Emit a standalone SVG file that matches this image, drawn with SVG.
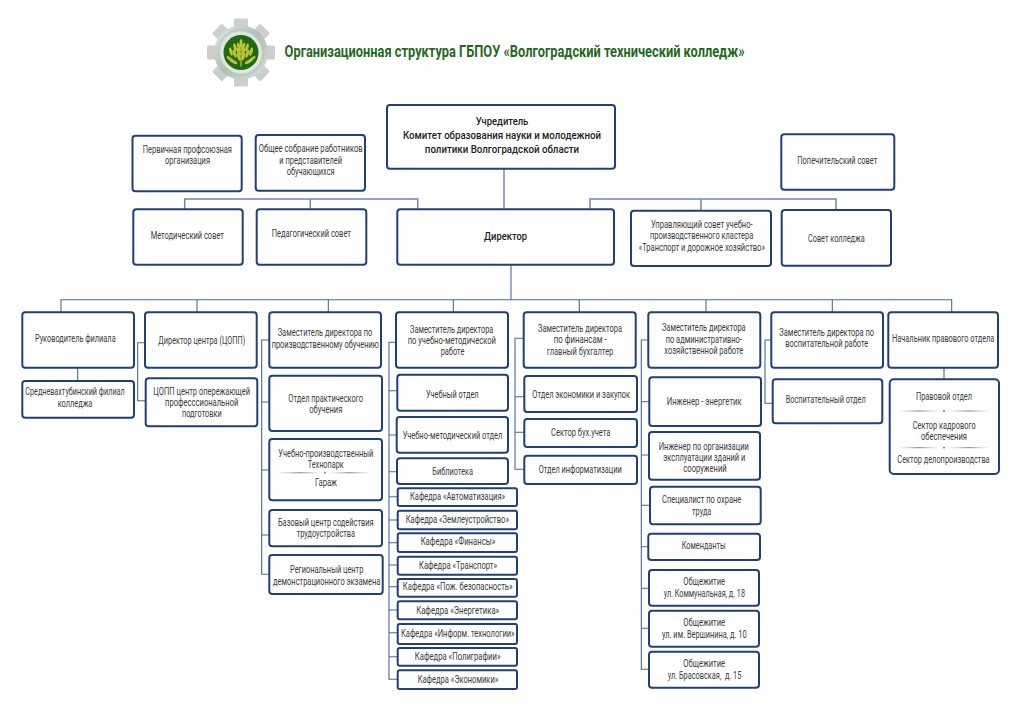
<svg xmlns="http://www.w3.org/2000/svg" width="1024" height="723" viewBox="0 0 1024 723">
<style>
text{font-family:Roboto,"Liberation Sans",sans-serif;font-size:10.6px;fill:#3c3c3c;text-anchor:middle}
.b{font-size:11.8px;font-weight:500;fill:#1c1c1c}
.t{font-size:15.8px;font-weight:700;fill:#1f6a1c}
rect.n{fill:#fff;stroke:#1f4079;stroke-width:2}
.c path{fill:none;stroke:#46689c;stroke-width:1.1}
.c path.h{stroke:#6d87ad;stroke-width:1.5}
.d{fill:url(#dg)}
.e{fill:#4f6f9f}
.w{fill:#c2c236}
</style>
<defs>
<linearGradient id="dg"><stop offset="0" stop-color="#9fb2cc" stop-opacity="0"/><stop offset=".5" stop-color="#5f7ca6"/><stop offset="1" stop-color="#9fb2cc" stop-opacity="0"/></linearGradient>
<linearGradient id="sg" x1="0" y1="0" x2="1" y2="1"><stop offset="0" stop-color="#e4e7e5"/><stop offset=".5" stop-color="#b4bbb8"/><stop offset="1" stop-color="#dcdfdd"/></linearGradient>
<rect id="tooth" x="-7" y="-34" width="14" height="10" rx="1.5" fill="#cbd0cd"/>
<ellipse id="lf" cx="0" cy="-4" rx="1.5" ry="4.2" class="w"/>
</defs>
<rect width="1024" height="723" fill="#fff"/>
<g id="logo" transform="translate(241 52.500)">
<use href="#tooth"/><use href="#tooth" transform="rotate(45)"/><use href="#tooth" transform="rotate(90)"/><use href="#tooth" transform="rotate(135)"/><use href="#tooth" transform="rotate(180)"/><use href="#tooth" transform="rotate(225)"/><use href="#tooth" transform="rotate(270)"/><use href="#tooth" transform="rotate(315)"/>
<circle r="27" fill="url(#sg)"/>
<circle r="23" fill="none" stroke="#a9cfae" stroke-width="1"/>
<circle r="21" fill="#dfe5e2"/>
<circle r="17.500" fill="#1f6a12"/>
<rect x="-.5" y="-13" width="1" height="27" fill="#d9d24a"/>
<use href="#lf" transform="translate(0 -5)"/>
<use href="#lf" transform="translate(-1 -2) rotate(-18)"/><use href="#lf" transform="translate(1 -2) rotate(18)"/>
<use href="#lf" transform="translate(-1 3) rotate(-18)"/><use href="#lf" transform="translate(1 3) rotate(18)"/>
<use href="#lf" transform="translate(-1 8) rotate(-18)"/><use href="#lf" transform="translate(1 8) rotate(18)"/>
<use href="#lf" transform="translate(-5 -1) rotate(-14)"/><use href="#lf" transform="translate(5 -1) rotate(14)"/>
<use href="#lf" transform="translate(-5 5) rotate(-20)"/><use href="#lf" transform="translate(5 5) rotate(20)"/>
<use href="#lf" transform="translate(-9 3) rotate(-16)"/><use href="#lf" transform="translate(9 3) rotate(16)"/>
<use href="#lf" transform="translate(-4 11) rotate(-62)"/><use href="#lf" transform="translate(4 11) rotate(62)"/>
<use href="#lf" transform="translate(-8 9) rotate(-50)"/><use href="#lf" transform="translate(8 9) rotate(50)"/>
</g>
<text class="t" x="514.600" y="57" textLength="460" lengthAdjust="spacingAndGlyphs">Организационная структура ГБПОУ «Волгоградский технический колледж»</text>
<g id="connectors" class="c">
<path class="h" d="M504 168V209"/>
<path class="h" d="M184.700 209V199H417.700V209M310.300 199V209"/>
<path class="h" d="M590 209V199H836V210M701 199V211"/>
<path d="M511 264V299.700"/>
<path d="M61 312V299.700H951.700V312M197 299.700V312M328.300 299.700V312M453.300 299.700V312M579.300 299.700V312M706 299.700V312M832.300 299.700V312"/>
<path d="M77.700 367V381"/>
<path d="M145 342.700H137.700V400.700H146"/>
<path d="M269 340H261.700V574.300H269M261.700 402H269M261.700 470H269M261.700 535H269"/>
<path d="M396 342.300H389V679.300H397M389 390.700H397M389 435H397M389 471.700H397M389 496.700H397M389 520H397M389 542.700H397M389 565H397M389 586.700H397M389 610H397M389 632.700H397M389 656.700H397"/>
<path d="M524 338.300H515V469.300H524M515 396.700H524M515 432.300H524"/>
<path d="M648 340H641.300V669.300H649M641.300 401.700H649M641.300 455H649M641.300 505.300H650M641.300 546.700H648M641.300 588.300H649M641.300 628.300H649"/>
<path d="M771 340H765V403.300H773"/>
<path d="M944 367V379"/>
</g>
<g id="n1"><rect class="n" x="387" y="105" width="228" height="63.700" rx="3"/>
<text class="b" x="502" y="124.700" textLength="52.700" lengthAdjust="spacingAndGlyphs">Учредитель</text>
<text class="b" x="502" y="139" textLength="198" lengthAdjust="spacingAndGlyphs">Комитет образования науки и молодежной</text>
<text class="b" x="502" y="153.300" textLength="154.300" lengthAdjust="spacingAndGlyphs">политики Волгоградской области</text></g>
<g id="n2"><rect class="n" x="132.500" y="135.700" width="109.200" height="55.600" rx="3"/>
<text x="187.300" y="153" textLength="89.300" lengthAdjust="spacingAndGlyphs">Первичная профсоюзная</text>
<text x="187.500" y="164" textLength="45" lengthAdjust="spacingAndGlyphs">организация</text></g>
<g id="n3"><rect class="n" x="255.700" y="135" width="109.300" height="55.700" rx="3"/>
<text x="310.700" y="152" textLength="104" lengthAdjust="spacingAndGlyphs">Общее собрание работников</text>
<text x="310.700" y="163.500" textLength="62.700" lengthAdjust="spacingAndGlyphs">и представителей</text>
<text x="310.700" y="175" textLength="48" lengthAdjust="spacingAndGlyphs">обучающихся</text></g>
<g id="n4"><rect class="n" x="781.300" y="134.300" width="113" height="55.400" rx="3"/>
<text x="837.300" y="164" textLength="80" lengthAdjust="spacingAndGlyphs">Попечительский совет</text></g>
<g id="n5"><rect class="n" x="133.300" y="209.300" width="109.400" height="55.400" rx="3"/>
<text x="187.300" y="239" textLength="73.300" lengthAdjust="spacingAndGlyphs">Методический совет</text></g>
<g id="n6"><rect class="n" x="256.700" y="209.300" width="109.600" height="55.400" rx="3"/>
<text x="311.300" y="236.700" textLength="79.300" lengthAdjust="spacingAndGlyphs">Педагогический совет</text></g>
<g id="n7"><rect class="n" x="397.300" y="209.300" width="216.700" height="55.400" rx="3"/>
<text class="b" x="505.500" y="240" textLength="43" lengthAdjust="spacingAndGlyphs">Директор</text></g>
<g id="n8"><rect class="n" x="631" y="210.700" width="140" height="55.300" rx="3"/>
<text x="701.800" y="228" textLength="101.700" lengthAdjust="spacingAndGlyphs">Управляющий совет учебно-</text>
<text x="701.700" y="239" textLength="103.300" lengthAdjust="spacingAndGlyphs">производственного кластера</text>
<text x="701.800" y="250.700" textLength="126.300" lengthAdjust="spacingAndGlyphs">«Транспорт и дорожное хозяйство»</text></g>
<g id="n9"><rect class="n" x="781.700" y="210" width="109.300" height="55.700" rx="3"/>
<text x="836.300" y="242" textLength="56.700" lengthAdjust="spacingAndGlyphs">Совет колледжа</text></g>
<g id="n10"><rect class="n" x="22.300" y="312.300" width="111.700" height="55.400" rx="3"/>
<text x="75.300" y="342.300" textLength="80.700" lengthAdjust="spacingAndGlyphs">Руководитель филиала</text></g>
<g id="n11"><rect class="n" x="22.300" y="381" width="111.700" height="36.700" rx="3"/>
<text x="75" y="395.300" textLength="99.300" lengthAdjust="spacingAndGlyphs">Средневахтубинский филиал</text>
<text x="75" y="406.700" textLength="34.700" lengthAdjust="spacingAndGlyphs">колледжа</text></g>
<g id="n12"><rect class="n" x="145" y="312.300" width="111.700" height="55.400" rx="3"/>
<text x="201.800" y="344.300" textLength="87" lengthAdjust="spacingAndGlyphs">Директор центра (ЦОПП)</text></g>
<g id="n13"><rect class="n" x="145.700" y="378.300" width="111.600" height="48" rx="3"/>
<text x="201.700" y="394.700" textLength="96.700" lengthAdjust="spacingAndGlyphs">ЦОПП центр опережающей</text>
<text x="201.700" y="406" textLength="73.300" lengthAdjust="spacingAndGlyphs">професссиональной</text>
<text x="201.800" y="417" textLength="39.700" lengthAdjust="spacingAndGlyphs">подготовки</text></g>
<g id="n14"><rect class="n" x="269.300" y="312.300" width="111.700" height="55.400" rx="3"/>
<text x="325" y="336.300" textLength="94.700" lengthAdjust="spacingAndGlyphs">Заместитель директора по</text>
<text x="325.300" y="347.700" textLength="107.300" lengthAdjust="spacingAndGlyphs">производственному обучению</text></g>
<g id="n15"><rect class="n" x="269.300" y="375.700" width="112.700" height="55.300" rx="3"/>
<text x="325.700" y="402" textLength="74.700" lengthAdjust="spacingAndGlyphs">Отдел практического</text>
<text x="325.800" y="413.300" textLength="33" lengthAdjust="spacingAndGlyphs">обучения</text></g>
<g id="n16"><rect class="n" x="269.300" y="439" width="112.700" height="61.300" rx="3"/>
<text x="325.800" y="457" textLength="95" lengthAdjust="spacingAndGlyphs">Учебно-производственный</text>
<text x="325.700" y="468.300" textLength="36" lengthAdjust="spacingAndGlyphs">Технопарк</text>
<rect class="d" x="276" y="472.300" width="47" height="1"/><rect class="d" x="327" y="472.300" width="45" height="1"/><circle class="e" cx="325" cy="472.800" r=".9"/>
<text x="326" y="485.700" textLength="22" lengthAdjust="spacingAndGlyphs">Гараж</text></g>
<g id="n17"><rect class="n" x="269.300" y="510" width="112.700" height="36.300" rx="3"/>
<text x="325.800" y="525.700" textLength="95.700" lengthAdjust="spacingAndGlyphs">Базовый центр содействия</text>
<text x="325.800" y="537" textLength="58.300" lengthAdjust="spacingAndGlyphs">трудоустройства</text></g>
<g id="n18"><rect class="n" x="269.300" y="555" width="113.400" height="39" rx="3"/>
<text x="326.700" y="573.300" textLength="73.300" lengthAdjust="spacingAndGlyphs">Региональный центр</text>
<text x="326.700" y="584.700" textLength="107.300" lengthAdjust="spacingAndGlyphs">демонстрационного экзамена</text></g>
<g id="n19"><rect class="n" x="396" y="312.300" width="112" height="55.400" rx="3"/>
<text x="451.700" y="332.700" textLength="83.300" lengthAdjust="spacingAndGlyphs">Заместитель директора</text>
<text x="451.800" y="344" textLength="88.300" lengthAdjust="spacingAndGlyphs">по учебно-методической</text>
<text x="452.500" y="355.300" textLength="23.700" lengthAdjust="spacingAndGlyphs">работе</text></g>
<g id="n20"><rect class="n" x="397.300" y="374.700" width="110.700" height="36" rx="3"/>
<text x="452.300" y="398" textLength="52.700" lengthAdjust="spacingAndGlyphs">Учебный отдел</text></g>
<g id="n21"><rect class="n" x="396.700" y="417" width="111.300" height="35.700" rx="3"/>
<text x="452.500" y="439" textLength="99.700" lengthAdjust="spacingAndGlyphs">Учебно-методический отдел</text></g>
<g id="n22"><rect class="n" x="397" y="458.300" width="111" height="25.700" rx="3"/>
<text x="452.700" y="475.300" textLength="40.700" lengthAdjust="spacingAndGlyphs">Библиотека</text></g>
<g id="n23"><rect class="n" x="397.700" y="488.300" width="119.300" height="17.700" rx="2"/>
<text x="457.500" y="500" textLength="95" lengthAdjust="spacingAndGlyphs">Кафедра «Автоматизация»</text></g>
<g id="n24"><rect class="n" x="397.700" y="510.700" width="119.300" height="18.600" rx="2"/>
<text x="457.300" y="522.700" textLength="103.300" lengthAdjust="spacingAndGlyphs">Кафедра «Землеустройство»</text></g>
<g id="n25"><rect class="n" x="397.700" y="533.300" width="119.300" height="18.700" rx="2"/>
<text x="458" y="545.300" textLength="74.700" lengthAdjust="spacingAndGlyphs">Кафедра «Финансы»</text></g>
<g id="n26"><rect class="n" x="397.700" y="556.700" width="119.300" height="18" rx="2"/>
<text x="458" y="568.700" textLength="78" lengthAdjust="spacingAndGlyphs">Кафедра «Транспорт»</text></g>
<g id="n27"><rect class="n" x="397.700" y="579" width="119.300" height="17.700" rx="2"/>
<text x="457.700" y="590.300" textLength="109.700" lengthAdjust="spacingAndGlyphs">Кафедра «Пож. безопасность»</text></g>
<g id="n28"><rect class="n" x="397.700" y="601.300" width="119.300" height="18" rx="2"/>
<text x="457.700" y="613.700" textLength="83" lengthAdjust="spacingAndGlyphs">Кафедра «Энергетика»</text></g>
<g id="n29"><rect class="n" x="397.700" y="624" width="119.300" height="20" rx="2"/>
<text x="457.800" y="636.700" textLength="113.700" lengthAdjust="spacingAndGlyphs">Кафедра «Информ. технологии»</text></g>
<g id="n30"><rect class="n" x="397.700" y="648" width="119.300" height="17.700" rx="2"/>
<text x="457.700" y="659.700" textLength="85.700" lengthAdjust="spacingAndGlyphs">Кафедра «Полиграфии»</text></g>
<g id="n31"><rect class="n" x="397.700" y="670.300" width="119.300" height="18.700" rx="2"/>
<text x="458" y="683.300" textLength="80.700" lengthAdjust="spacingAndGlyphs">Кафедра «Экономики»</text></g>
<g id="n32"><rect class="n" x="523.700" y="312.300" width="112" height="55.400" rx="3"/>
<text x="580" y="332" textLength="84" lengthAdjust="spacingAndGlyphs">Заместитель директора</text>
<text x="580.200" y="343.300" textLength="53" lengthAdjust="spacingAndGlyphs">по финансам -</text>
<text x="580" y="354.700" textLength="66.700" lengthAdjust="spacingAndGlyphs">главный бухгалтер</text></g>
<g id="n33"><rect class="n" x="524.300" y="376" width="112.700" height="36" rx="3"/>
<text x="581.200" y="397.700" textLength="97.700" lengthAdjust="spacingAndGlyphs">Отдел экономики и закупок</text></g>
<g id="n34"><rect class="n" x="524.300" y="419" width="112.700" height="28" rx="3"/>
<text x="580.700" y="436.300" textLength="59.300" lengthAdjust="spacingAndGlyphs">Сектор бух.учета</text></g>
<g id="n35"><rect class="n" x="524.300" y="455.700" width="112.700" height="28.300" rx="3"/>
<text x="580.200" y="473" textLength="83" lengthAdjust="spacingAndGlyphs">Отдел информатизации</text></g>
<g id="n36"><rect class="n" x="648.300" y="312.300" width="112" height="55.400" rx="3"/>
<text x="703.800" y="331.300" textLength="83.700" lengthAdjust="spacingAndGlyphs">Заместитель директора</text>
<text x="703.800" y="342.700" textLength="76.300" lengthAdjust="spacingAndGlyphs">по административно-</text>
<text x="703.800" y="353.700" textLength="79" lengthAdjust="spacingAndGlyphs">хозяйственной работе</text></g>
<g id="n37"><rect class="n" x="649.300" y="377.300" width="111.700" height="48.700" rx="3"/>
<text x="704.200" y="404.700" textLength="75" lengthAdjust="spacingAndGlyphs">Инженер - энергетик</text></g>
<g id="n38"><rect class="n" x="649" y="432" width="111" height="47.700" rx="3"/>
<text x="703.800" y="449.700" textLength="90.300" lengthAdjust="spacingAndGlyphs">Инженер по организации</text>
<text x="704.300" y="460.700" textLength="82" lengthAdjust="spacingAndGlyphs">эксплуатации зданий и</text>
<text x="705" y="472" textLength="43.300" lengthAdjust="spacingAndGlyphs">сооружений</text></g>
<g id="n39"><rect class="n" x="650" y="486.700" width="110.700" height="37.600" rx="3"/>
<text x="701.700" y="503.300" textLength="79.300" lengthAdjust="spacingAndGlyphs">Специалист по охране</text>
<text x="701.700" y="514.700" textLength="19.300" lengthAdjust="spacingAndGlyphs">труда</text></g>
<g id="n40"><rect class="n" x="648.300" y="533.700" width="111.700" height="26.300" rx="3"/>
<text x="703.700" y="549" textLength="44" lengthAdjust="spacingAndGlyphs">Коменданты</text></g>
<g id="n41"><rect class="n" x="649" y="570" width="110" height="35.700" rx="3"/>
<text x="704.200" y="585.300" textLength="41.700" lengthAdjust="spacingAndGlyphs">Общежитие</text>
<text x="704.300" y="597" textLength="81.300" lengthAdjust="spacingAndGlyphs">ул. Коммунальная, д. 18</text></g>
<g id="n42"><rect class="n" x="649" y="610.700" width="110" height="36" rx="3"/>
<text x="704.200" y="626" textLength="41.700" lengthAdjust="spacingAndGlyphs">Общежитие</text>
<text x="704.300" y="637.700" textLength="84.700" lengthAdjust="spacingAndGlyphs">ул. им. Вершинина, д. 10</text></g>
<g id="n43"><rect class="n" x="649" y="651.700" width="110" height="36" rx="3"/>
<text x="704.200" y="667.300" textLength="41.700" lengthAdjust="spacingAndGlyphs">Общежитие</text>
<text x="704.500" y="678.700" textLength="73.700" lengthAdjust="spacingAndGlyphs" xml:space="preserve">ул. Брасовская,  д. 15</text></g>
<g id="n44"><rect class="n" x="771.300" y="312.300" width="111.700" height="55.400" rx="3"/>
<text x="826.700" y="335.700" textLength="94.700" lengthAdjust="spacingAndGlyphs">Заместитель директора по</text>
<text x="826.800" y="347" textLength="83" lengthAdjust="spacingAndGlyphs">воспитательной работе</text></g>
<g id="n45"><rect class="n" x="772.700" y="379.300" width="109.600" height="44" rx="3"/>
<text x="825.700" y="402.700" textLength="80" lengthAdjust="spacingAndGlyphs">Воспитательный отдел</text></g>
<g id="n46"><rect class="n" x="888.300" y="312.300" width="109.700" height="55.400" rx="3"/>
<text x="943.200" y="342" textLength="102.300" lengthAdjust="spacingAndGlyphs">Начальник правового отдела</text></g>
<g id="n47"><rect class="n" x="889.700" y="379.300" width="109.300" height="94.700" rx="4"/>
<text x="944" y="400" textLength="56" lengthAdjust="spacingAndGlyphs">Правовой отдел</text>
<rect class="d" x="896.700" y="410.500" width="45" height="1"/><rect class="d" x="946" y="410.500" width="45.700" height="1"/><circle class="e" cx="944" cy="411" r=".9"/>
<text x="944.200" y="429" textLength="63" lengthAdjust="spacingAndGlyphs">Сектор кадрового</text>
<text x="944" y="440" textLength="46" lengthAdjust="spacingAndGlyphs">обеспечения</text>
<rect class="d" x="896.700" y="447.200" width="45" height="1"/><rect class="d" x="946" y="447.200" width="45.700" height="1"/><circle class="e" cx="944" cy="447.700" r=".9"/>
<text x="943.500" y="463" textLength="92.300" lengthAdjust="spacingAndGlyphs">Сектор делопроизводства</text></g>
</svg>
